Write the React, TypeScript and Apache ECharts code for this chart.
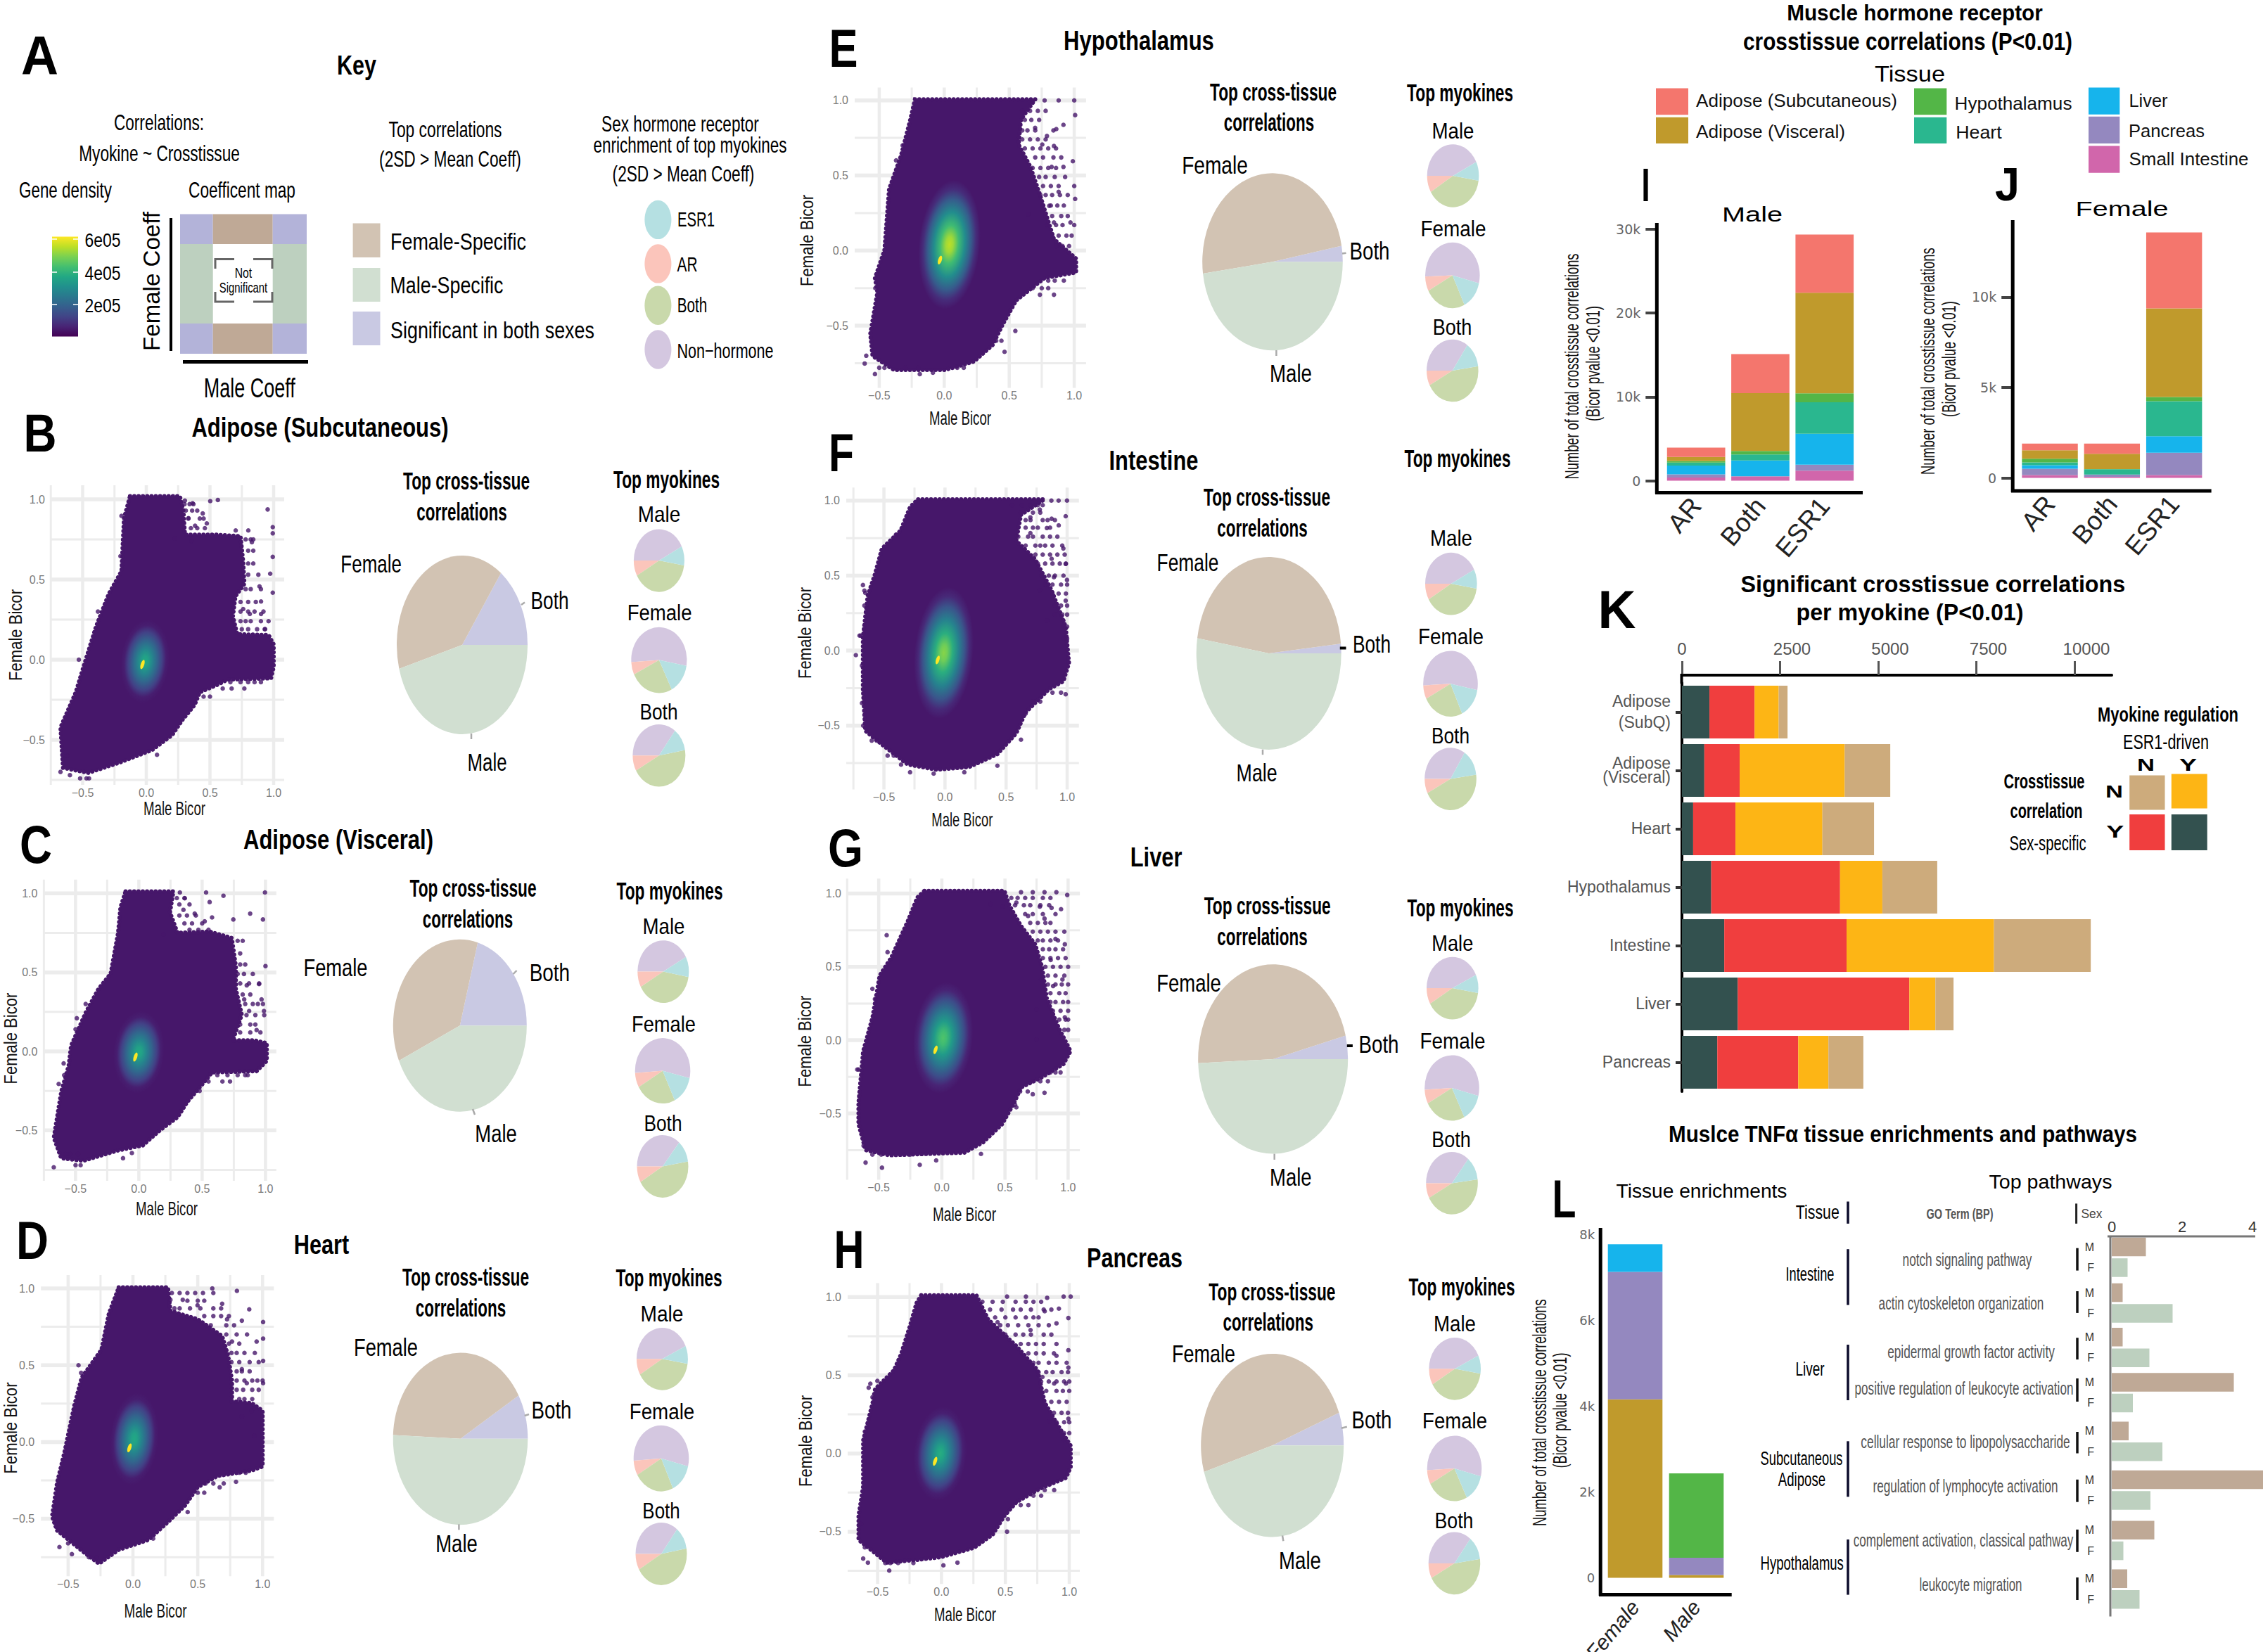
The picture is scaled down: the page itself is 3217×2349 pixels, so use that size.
import React, { useEffect, useRef } from "react";
import * as echarts from "echarts";

const W = 3217, H = 2349;
const SANS = '"Liberation Sans", Arial, sans-serif';

// ---------- data ----------
const panelIds = ["B", "C", "D", "E", "F", "G", "H"];

const cloudOutlineB = [[-.128,1.02],[.263,1.02],[.291,.93],[.303,.78],[.54,.78],[.74,.77],[.76,.615],[.77,.473],[.70,.395],[.68,.27],[.714,.159],[.96,.154],[1.0,.096],[1.0,-.046],[.98,-.116],[.64,-.124],[.56,-.156],[.42,-.203],[.38,-.281],[.283,-.376],[.203,-.47],[.044,-.564],[-.215,-.643],[-.455,-.706],[-.654,-.675],[-.674,-.423],[-.554,-.203],[-.494,-.046],[-.395,.206],[-.295,.41],[-.195,.552],[-.175,.882]];
const cloudOutlineC = [[-.105,1.013],[.273,1.013],[.246,.88],[.305,.75],[.559,.758],[.734,.718],[.766,.54],[.766,.394],[.813,.232],[.742,.07],[.91,.07],[1.01,.053],[1.01,-.06],[.93,-.125],[.578,-.133],[.52,-.19],[.383,-.319],[.305,-.417],[.168,-.498],[.031,-.595],[-.164,-.627],[-.4375,-.692],[-.613,-.676],[-.672,-.546],[-.613,-.254],[-.555,-.092],[-.535,.037],[-.418,.248],[-.32,.394],[-.223,.491],[-.164,.75],[-.145,.912]];
const cloudOutlineD = [[-.11,1.007],[.27,1.007],[.289,.854],[.498,.8],[.688,.69],[.734,.564],[.764,.401],[.764,.266],[.916,.253],[1.0,.203],[1.0,-.159],[.916,-.186],[.65,-.222],[.498,-.295],[.403,-.412],[.27,-.521],[.118,-.638],[-.11,-.702],[-.262,-.792],[-.376,-.72],[-.586,-.575],[-.624,-.485],[-.586,-.268],[-.529,-.069],[-.452,.239],[-.395,.42],[-.243,.6],[-.186,.835],[-.129,.962]];
const cloudOutlineE = [[-.225,1.007],[.70,1.007],[.59,.872],[.572,.706],[.663,.557],[.736,.372],[.844,.076],[1.014,-.054],[1.014,-.146],[.772,-.183],[.554,-.331],[.446,-.498],[.373,-.628],[.228,-.739],[.011,-.794],[-.388,-.794],[-.551,-.702],[-.569,-.554],[-.514,-.276],[-.533,-.183],[-.46,.002],[-.424,.409],[-.333,.631],[-.261,.872]];
const cloudOutlineF = [[-.22,1.009],[.815,1.009],[.622,.905],[.583,.731],[.737,.61],[.873,.402],[.988,.159],[1.015,-.083],[.969,-.205],[.853,-.256],[.66,-.412],[.583,-.551],[.429,-.69],[.197,-.776],[-.073,-.794],[-.305,-.759],[-.498,-.638],[-.653,-.534],[-.672,-.256],[-.672,.09],[-.633,.367],[-.575,.506],[-.517,.679],[-.363,.801],[-.286,.957]];
const cloudOutlineG = [[-.138,1.018],[.496,1.018],[.534,.92],[.627,.778],[.739,.654],[.795,.494],[.832,.281],[.925,.085],[1.019,-.075],[.963,-.163],[.795,-.252],[.627,-.323],[.571,-.43],[.478,-.572],[.328,-.696],[.179,-.767],[-.418,-.785],[-.604,-.75],[-.66,-.572],[-.66,-.43],[-.623,-.075],[-.549,.156],[-.493,.44],[-.399,.565],[-.269,.813],[-.194,.973]];
const cloudOutlineH = [[-.159,1.012],[.273,1.012],[.365,.857],[.587,.686],[.753,.531],[.808,.325],[.919,.17],[1.011,.05],[1.011,-.088],[.974,-.156],[.771,-.225],[.587,-.311],[.494,-.397],[.402,-.517],[.255,-.603],[-.004,-.663],[-.188,-.68],[-.428,-.698],[-.52,-.637],[-.649,-.552],[-.649,-.397],[-.613,-.208],[-.613,.084],[-.539,.325],[-.52,.411],[-.373,.531],[-.317,.634],[-.244,.823],[-.196,.961]];
const cloudOutlines = [cloudOutlineB, cloudOutlineC, cloudOutlineD, cloudOutlineE, cloudOutlineF, cloudOutlineG, cloudOutlineH];

const strayB = [[.303,.992],[.363,.976],[.502,.989],[.562,.996],[.331,.882],[.443,.912],[.383,.835],[.475,.85],[.953,.937],[.993,.827],[.993,.788],[.702,.806],[.801,.806],[.829,.733],[.993,.641],[.973,.536],[.993,.418],[.889,.457],[.901,.363],[.813,.285],[.901,.285],[.761,.316],[.933,.191],[.223,.756],[.355,.74],[-.195,.897],[-.203,.646],[-.674,-.7],[-.6,-.72],[-.47,-.74],[.084,-.593],[-.07,-.58]];
const strayC = [[.324,1.006],[.363,.969],[.531,1.006],[.668,.985],[.996,1.006],[.352,.896],[.441,.872],[.559,.945],[.578,.848],[.879,.872],[.98,.835],[.746,.835],[.52,.823],[1.0,.54],[.949,.426],[.852,.418],[.832,.329],[.969,.329],[.988,.256],[.871,.256],[.746,.07],[.93,.135],[-.672,-.733],[-.055,-.643],[-.125,-.676],[-.594,-.076],[-.633,-.206],[.195,.742]];
const strayD = [[.289,.926],[.384,.926],[.498,.89],[.612,1.0],[.802,.984],[.688,.9],[.897,.864],[1.004,.781],[1.004,.673],[.84,.79],[.726,.799],[.954,.654],[.764,.654],[.84,.474],[1.004,.528],[1.004,.383],[.878,.383],[.84,.166],[.916,.203],[.935,.04],[.795,-.259],[.669,-.295],[.422,-.456],[-.567,-.684],[-.471,-.73],[.156,-.629]];
const strayE = [[.772,1.0],[.88,1.0],[1.0,1.0],[1.007,.902],[.917,.837],[.862,.809],[.79,.763],[.699,.817],[.754,.706],[.844,.696],[.989,.595],[.917,.557],[.826,.557],[1.007,.344],[.88,.391],[.971,.187],[.808,.298],[.844,.187],[.645,.243],[.736,-.294],[.844,-.294],[.547,-.535],[.464,-.674],[-.612,-.752],[-.533,-.822],[-.188,-.822],[-.087,-.813]];
const strayF = [[.871,1.0],[.93,1.0],[.999,1.0],[.988,.896],[.776,.94],[.699,.888],[.873,.879],[.931,.835],[.834,.817],[.699,.783],[.969,.681],[.988,.578],[.873,.612],[.892,.489],[.999,.471],[.776,.402],[.988,.333],[.834,.201],[.969,.201],[-.73,-.03],[-.672,.437],[-.653,.385],[-.402,.773],[.988,-.291],[.622,-.594],[.429,-.767],[.158,-.811],[-.286,-.811],[-.093,-.82]];
const strayG = [[.627,1.009],[.72,1.009],[.813,1.009],[.907,1.009],[.993,.99],[.776,.91],[.869,.902],[.944,.893],[.59,.938],[.683,.847],[.813,.829],[.974,.654],[.9,.69],[.862,.547],[.955,.414],[.787,.414],[.881,.369],[.974,.156],[.881,.156],[.75,.21],[.75,.005],[-.437,.716],[-.604,-.835],[-.474,-.87],[-.175,-.85],[-.045,-.82],[.31,-.776],[.813,-.359],[.72,-.369],[.59,-.458],[.386,.93],[.48,.91]];
const strayH = [[.513,1.003],[.661,1.003],[.827,.995],[.956,1.003],[1.011,1.003],[.808,.909],[.919,.926],[.993,.866],[.9,.832],[.439,.839],[.697,.789],[.993,.66],[.9,.625],[.993,.549],[.79,.489],[.974,.447],[.882,.447],[.845,.205],[.956,.084],[.993,.222],[-.557,.446],[-.502,.464],[-.613,-.672],[-.576,-.698],[-.409,-.749],[.015,-.715],[.125,-.698],[.513,-.5],[.808,-.234],[.882,-.234]];
const strayPoints = [strayB, strayC, strayD, strayE, strayF, strayG, strayH];

// the speckled fringe of each cloud, row by row: [Female Bicor, [Male Bicor, ...]]
const fringeB: any[] = [[.97,[.3,.34,.37]],[.93,[.31,.36,.4]],[.88,[.33,.42,.45]],[.82,[.35,.4,.46]],[.75,[.78,.82,.84]],[.68,[.8,.84]],[.6,[.8,.84]],[.53,[.8,.88]],[.44,[.78,.82,.9]],[.36,[.74,.8,.86]],[.3,[.74,.8,.85,.92]],[.24,[.74,.78,.82,.9,.96]],[.19,[.75,.8,.87,.93]],[-.14,[.66,.74,.8,.85,.9]],[-.18,[.6,.67,.77]],[-.23,[.45,.5]],[.3,[-.38]],[0,[-.53]],[-.6,[-.62]],[-.74,[-.45,-.52]]];
const fringeC: any[] = [[.97,[.3,.36]],[.93,[.32,.4]],[.86,[.32,.38,.45]],[.81,[.36,.42,.5]],[.77,[.4,.47,.55]],[.7,[.78,.82]],[.62,[.8]],[.55,[.8,.84]],[.49,[.78,.83,.9]],[.43,[.8,.87,.95]],[.36,[.82,.88]],[.3,[.84,.9,.94,.98]],[.23,[.85,.92,.99]],[.17,[.8,.88,.92]],[.12,[.8,.88,.96]],[-.15,[.62,.7,.78,.84,.86]],[-.19,[.55,.66,.72]],[-.25,[.48]],[.3,[-.42]],[.21,[-.49]],[.14,[-.5]],[-.15,[-.59]],[-.65,[-.58,-.54,-.48]],[-.72,[-.5,-.46]]];
const fringeD: any[] = [[.97,[.3,.36,.42,.48,.54,.62]],[.92,[.42,.5,.55]],[.87,[.32,.36,.44,.52,.62,.68]],[.82,[.55,.62,.68,.74]],[.76,[.6,.72,.78]],[.7,[.72,.8,.88]],[.64,[.74,.82]],[.58,[.76,.8,.86,.94]],[.52,[.76,.82,.9,.97]],[.46,[.8,.84,.9]],[.4,[.8,.86,.92,.96,1.0]],[.34,[.8,.85,.92,.97]],[.28,[.82,.86,.92]],[-.2,[.75,.82,.87]],[-.27,[.56,.62,.7]],[-.33,[.5,.55]],[.5,[-.42]],[.45,[-.4]],[-.6,[-.53]],[-.66,[-.5]],[-.75,[-.34,-.28]]];
const fringeE: any[] = [[.93,[.6,.66,.72,.78]],[.87,[.62,.67,.73]],[.8,[.6,.64,.7,.84]],[.74,[.6,.66,.72,.78]],[.68,[.62,.68,.74,.8,.86]],[.62,[.62,.7,.76,.84,.9]],[.55,[.68,.74,.8,.86]],[.49,[.68,.73,.78,.85,.93]],[.43,[.7,.76,.82,.88,1.0]],[.37,[.74,.78,.83,.89,.95]],[.3,[.76,.82,.87,.92]],[.23,[.78,.83,.9,.95]],[.17,[.79,.86,.91,1.0]],[.1,[.83,.88,.94,.98]],[.03,[.86,.91,.96]],[-.2,[.8,.85,.92]],[-.25,[.68,.75,.8]],[-.25,[-.53]],[.6,[-.37]],[.7,[-.32]],[-.7,[-.6]],[-.78,[-.46,-.5,-.3,-.2,.1,.15]],[-.6,[.4,.44]]];
const fringeF: any[] = [[.97,[.55,.63,.7,.76,.8]],[.92,[.62,.72,.78]],[.87,[.66,.7,.8,.84,.9]],[.82,[.66,.72,.76,.86]],[.76,[.6,.68,.72,.8,.86,.92]],[.7,[.66,.74,.78,.82,.88,.96]],[.64,[.74,.8,.86,.92,.98]],[.58,[.76,.82,.88,.94,.99]],[.5,[.79,.85,.9,.97]],[.44,[.82,.88,.95,1.0]],[.38,[.88,.93,.99]],[.3,[.9,.95,1.0]],[.24,[.9,.96,1.0]],[.16,[.97,1.0]],[.08,[.97,1.0]],[-.28,[.8,.88,.95]],[-.34,[.72,.78]],[-.42,[.66]],[.4,[-.66]],[.3,[-.66]],[.1,[-.69,-.7]],[-.1,[-.68]],[-.35,[-.68]],[-.5,[-.67]],[-.6,[-.56,-.6]],[-.7,[-.42,-.47]],[-.76,[-.36]]];
const fringeG: any[] = [[.97,[.55,.6,.66,.72,.8,.86]],[.92,[.58,.65,.7,.78,.85]],[.86,[.66,.72,.8,.9]],[.8,[.7,.76,.82,.86]],[.74,[.72,.78,.84,.9,.97]],[.68,[.76,.8,.86,.92]],[.62,[.8,.85,.9,.96]],[.56,[.8,.86,.92,.98]],[.5,[.82,.88,.94,1.0]],[.44,[.84,.9,.97]],[.38,[.84,.9,.95,1.0]],[.32,[.86,.93,.98]],[.26,[.86,.9,.96,1.0]],[.2,[.88,.94,1.0]],[.14,[.93,.98,1.0]],[.07,[.97,1.0]],[-.22,[.86,.9,.94]],[-.28,[.72,.78,.84]],[-.35,[.62,.68]],[-.44,[.58]],[.35,[-.55]],[.28,[-.53]],[.6,[-.43]],[-.2,[-.66,-.67]],[-.62,[-.64]],[-.72,[-.62]],[-.78,[-.48,-.55,-.3,-.25]]];
const fringeH: any[] = [[.97,[.32,.4,.48,.58,.66,.72,.78]],[.92,[.38,.47,.56,.62,.7,.8,.86]],[.87,[.42,.5,.58,.66,.72,.76]],[.82,[.46,.52,.6,.68,.76,.84]],[.76,[.5,.58,.64,.7,.8,.86]],[.7,[.62,.68,.74,.8,.9]],[.64,[.68,.74,.8,.88]],[.58,[.72,.76,.84,.9,.98]],[.52,[.76,.82,.87,.94,.99]],[.46,[.78,.84,.9,.96,1.0]],[.4,[.82,.9,.95,1.0]],[.33,[.86,.92,.98]],[.26,[.88,.94,.99]],[.2,[.9,.96,1.0]],[.13,[.96,1.0]],[-.27,[.72,.78]],[-.33,[.62,.68]],[-.42,[.52]],[.42,[-.57]],[.36,[-.54]],[.14,[-.6]],[-.05,[-.6]],[-.45,[-.63]],[-.6,[-.6]],[-.7,[-.4,-.44,-.34,-.22]]];
const fringeRows = [fringeB, fringeC, fringeD, fringeE, fringeF, fringeG, fringeH];

// centre x, centre y, radius x, radius y, peak on the colour scale, hot spot x, hot spot y
const coreDensity = [
  [-.01, -.01, .19, .26, .6, -.03, -.03],
  [.0, -.005, .2, .26, .6, -.027, -.036],
  [.01, .02, .185, .3, .6, -.027, -.038],
  [.04, .04, .235, .43, .9, -.033, -.063],
  [-.01, -.015, .24, .44, .82, -.06, -.062],
  [.01, .015, .235, .38, .72, -.05, -.066],
  [-.01, 0, .205, .3, .62, -.05, -.05],
];

// Both, Female, Male (percent)
const mainPieShares = [
  [14.9, 39.4, 45.7], [20.7, 36, 43.3], [8.4, 40.9, 50.7], [2.9, 49.2, 47.9],
  [1.6, 45.9, 52.5], [4, 46.7, 49.3], [5.8, 48.9, 45.3],
];
// Non-hormone, AR, Both, ESR1 for the Male / Female / Both small pies
const myokineShares = [
  [[153.5, 29, 142, 35.5], [193.5, 22.5, 91, 53], [127, 29, 161, 43]],
  [[152, 29, 141, 38], [197, 26, 86, 51], [130, 30, 159, 41]],
  [[155.5, 30, 141, 33.5], [198, 26, 85, 51], [128, 30, 160, 42]],
  [[154, 31, 140, 35], [196, 26, 88, 50], [125, 28, 160, 47]],
  [[153, 30, 141, 36], [194, 24, 88, 54], [123, 27, 161, 49]],
  [[155, 30, 141, 34], [197, 25, 89, 49], [129, 28, 159, 44]],
  [[155, 30, 141, 34], [197, 25, 89, 49], [128, 28, 160, 44]],
];
const myokineStarts = [
  [26.5, -10, 53], [28, -13, 50], [24.5, -14, 52], [26, -14, 55], [27, -11, 57], [25, -14, 51], [25, -14, 52],
];

const receptorCats = ["AR", "Both", "ESR1"];
const tissues = ["Small Intestine", "Pancreas", "Liver", "Heart", "Hypothalamus", "Adipose (Visceral)", "Adipose (Subcutaneous)"];
const tissueColors = ["#d166ab", "#9488bf", "#16b4ec", "#2ab78f", "#53b647", "#c09a2c", "#f4766d"];
const maleBySmallIntestine = [380, 500, 1210];
const maleByPancreas = [380, 50, 710];
const maleByLiver = [1050, 1880, 3680];
const maleByHeart = [350, 710, 3770];
const maleByHypothalamus = [200, 420, 1050];
const maleByVisceral = [480, 6900, 12000];
const maleBySubcutaneous = [1100, 4640, 6950];
const maleStacks = [maleBySmallIntestine, maleByPancreas, maleByLiver, maleByHeart, maleByHypothalamus, maleByVisceral, maleBySubcutaneous];
const femaleBySmallIntestine = [155, 60, 155];
const femaleByPancreas = [350, 120, 1240];
const femaleByLiver = [195, 10, 910];
const femaleByHeart = [155, 290, 1940];
const femaleByHypothalamus = [210, 10, 230];
const femaleByVisceral = [465, 850, 4900];
const femaleBySubcutaneous = [370, 560, 4200];
const femaleStacks = [femaleBySmallIntestine, femaleByPancreas, femaleByLiver, femaleByHeart, femaleByHypothalamus, femaleByVisceral, femaleBySubcutaneous];

const myokineTissues = ["Adipose\n(SubQ)", "Adipose\n(Visceral)", "Heart", "Hypothalamus", "Intestine", "Liver", "Pancreas"];
const sexSpecificEsr1 = [700, 570, 285, 746, 1078, 1422, 900];
const sexSpecificOther = [1150, 900, 1078, 3282, 3116, 4372, 2062];
const sharedEsr1 = [615, 2677, 2216, 1078, 3756, 663, 770];
const sharedOther = [225, 1160, 1315, 1398, 2465, 462, 889];
const myokineTicks = [0, 2500, 5000, 7500, 10000];

const tnfSex = ["Female", "Male"];
const tnfVisceral = [4160, 64];
const tnfPancreas = [2972, 402];
const tnfHypothalamus = [0, 1968];
const tnfLiver = [643, 0];

const pathwayNames = ["notch signaling pathway", "actin cytoskeleton organization", "epidermal growth factor activity", "positive regulation of leukocyte activation", "cellular response to lipopolysaccharide", "regulation of lymphocyte activation", "complement activation, classical pathway", "leukocyte migration"];
const pathwayMale = [.97, .31, .31, 3.47, .48, 4.3, 1.21, .44];
const pathwayFemale = [.45, 1.73, 1.07, .6, 1.44, 1.1, .33, .79];
const sexLabels = ["M", "F"];
const bicorTicks = [-.5, 0, .5, 1];
const gridMajor = [-.5, 0, .5, 1];
const gridMinor = [-.75, -.25, .25, .75];

// ---------- layout ----------
const panelLayout = [
  { x0: 208, xu: 181, y0: 938, yu: 228, l: 73, r: 404, t: 690, b: 1116, letter: ["B", 57, 616, 47], title: ["Adipose (Subcutaneous)", 455, 608, 365],
    cross: [663, 684, 656.5, 727], myo: [947.5, 681.4], subs: [[937, 731.4, 60.5], [937.6, 871, 92], [936.5, 1011.8, 54]],
    labels: [[527.6, 802, 86.5], [781.6, 854, 54], [692.6, 1083.6, 56]], leaders: [[741, 860, 746, 856.4], [670, 1043, 670, 1051]], fb: [21.6, 903], mb: [248, 1150, 88],
    pie: [657, 917, 93, 127], small: [[936.9, 797, 36, 44.6], [936.9, 938.6, 39.6, 46.8], [936.9, 1074.3, 37.5, 44.3]] },
  { x0: 197.4, xu: 180, y0: 1495, yu: 224.7, l: 62.4, r: 392.8, t: 1250.7, b: 1679, letter: ["C", 51, 1201, 46], title: ["Adipose (Visceral)", 481, 1193.6, 270],
    cross: [672.5, 1262.7, 665, 1306.3], myo: [952, 1266.3], subs: [[943.5, 1316.5, 60], [943.5, 1456.4, 91], [942.5, 1597, 54]],
    labels: [[477, 1376, 91], [781.4, 1382.7, 57.5], [705, 1612.4, 59.5]], leaders: [[729.6, 1385, 734.5, 1380], [672, 1577, 675, 1585]], fb: [15, 1476.6], mb: [237, 1719, 88],
    pie: [653.8, 1458.3, 95, 122.5], small: [[942.8, 1381.6, 36.5, 44.4], [942, 1522.6, 39.3, 46.5], [942, 1658.5, 36.5, 44.4]] },
  { x0: 189, xu: 184.3, y0: 2050.4, yu: 218.4, l: 58.2, r: 389.3, t: 1812.9, b: 2241.2, letter: ["D", 46, 1763.6, 46], title: ["Heart", 457, 1769.5, 78.6],
    cross: [662, 1815.7, 655, 1859], myo: [951, 1816.9], subs: [[941, 1868.2, 61], [941, 2007, 92.6], [940, 2147.7, 53.3]],
    labels: [[548.5, 1916.7, 91], [784, 2004.4, 57], [649, 2195.8, 59.6]], leaders: [[745.7, 2013, 752, 2011], [652.4, 2167.4, 652.4, 2175.3]], fb: [15, 2030.5], mb: [221, 2290.6, 89],
    pie: [654.5, 2045.8, 95.8, 122.4], small: [[941.4, 1932.3, 36.5, 44.4], [940, 2073.7, 39.3, 47], [940, 2209.5, 36.5, 44.4]] },
  { x0: 1342.3, xu: 184.8, y0: 356.3, yu: 213.6, l: 1215, r: 1543.9, t: 124.6, b: 551.6, letter: ["E", 1199, 69, 41], title: ["Hypothalamus", 1619, 58, 214],
    cross: [1810, 130.5, 1804, 173.2], myo: [2075.6, 131.7], subs: [[2065.5, 185.8, 60], [2066, 325, 93], [2064.5, 465.4, 55.6]],
    labels: [[1727, 235.3, 93.7], [1947, 356.7, 57], [1835, 530.6, 60]], leaders: [[1908, 360.6, 1913.5, 359.8], [1814.4, 498, 1814.4, 506]], fb: [1146.7, 342], mb: [1365, 595, 88],
    pie: [1809, 372.3, 99.8, 126], small: [[2065.5, 249.9, 36.8, 44.7], [2064.8, 391.5, 38.8, 46.7], [2064.8, 527, 36.8, 44.3]] },
  { x0: 1343.4, xu: 173.6, y0: 925.1, yu: 213.3, l: 1203, r: 1533.8, t: 693.2, b: 1122.4, letter: ["F", 1196, 643.3, 36], title: ["Intestine", 1640, 655, 127],
    cross: [1801, 706.2, 1794.5, 750.6], myo: [2072, 651.4], subs: [[2063, 765.4, 60], [2062.5, 904.9, 93], [2062, 1045.8, 54]],
    labels: [[1688.5, 800.5, 88], [1950, 916.3, 54], [1786.6, 1099, 58]], leaders: [[1904.8, 921.5, 1913.5, 921.5, 1], [1795, 1065.8, 1795, 1073.2]], fb: [1143.4, 900], mb: [1367.8, 1165.7, 87],
    pie: [1803.7, 928.9, 103, 137], small: [[2062.8, 830.1, 36.8, 44.4], [2062, 972.2, 38.8, 46.8], [2062, 1107.6, 36.8, 44.4]] },
  { x0: 1338.9, xu: 179.5, y0: 1479, yu: 208.5, l: 1205, r: 1535.1, t: 1249.2, b: 1677.6, letter: ["G", 1202, 1206, 50], title: ["Liver", 1643.6, 1218.8, 73.7],
    cross: [1801.7, 1287.3, 1794.5, 1331], myo: [2076, 1290.2], subs: [[2064.8, 1341, 59], [2064.9, 1479.7, 93], [2063, 1620.3, 55.6]],
    labels: [[1690, 1398.3, 91.7], [1960, 1484.5, 57], [1834.8, 1673.9, 59.6]], leaders: [[1914.8, 1487, 1922.9, 1487, 1], [1811.7, 1640.6, 1811.7, 1649]], fb: [1143.4, 1480.6], mb: [1371, 1726.8, 90],
    pie: [1809.7, 1505.9, 106.5, 134.7], small: [[2064.8, 1405.1, 36.8, 44.4], [2064, 1547, 38.8, 46.6], [2064, 1682.4, 36.8, 44.4]] },
  { x0: 1338.4, xu: 181.6, y0: 2066.7, yu: 222.4, l: 1205, r: 1535, t: 1824.5, b: 2252.3, letter: ["H", 1207, 1776.7, 43], title: ["Pancreas", 1613, 1789, 136],
    cross: [1808.4, 1837, 1802.7, 1879.9], myo: [2078, 1830], subs: [[2068, 1881.8, 60], [2068, 2020.4, 92], [2067, 2161.8, 55]],
    labels: [[1711, 1925, 90], [1950, 2018.5, 57], [1848, 2218.7, 60]], leaders: [[1906.8, 2030.7, 1914.8, 2028.8], [1823, 2183.5, 1824.4, 2191.2]], fb: [1144.7, 2049], mb: [1372, 2296, 88],
    pie: [1808.7, 2055.2, 101.5, 130.3], small: [[2068.2, 1946.3, 36.8, 44.3], [2067.5, 2088, 38.8, 46.6], [2067.5, 2222.9, 36.8, 44.3]] },
];

const CLOUD = "#46176a";
const VIRIDIS = ["#440154", "#482475", "#414487", "#355f8d", "#2a788e", "#21908d", "#22a884", "#44bf70", "#7ad151", "#bddf26", "#fde725"];
const MAIN_COLORS = ["#c9c9e3", "#d2c3b3", "#d1dfd1"];
const SMALL_COLORS = ["#d4c7e0", "#fbc5bb", "#c9d9ab", "#b5e0e2"];

function hex(c: string) { return [1, 3, 5].map((i) => parseInt(c.slice(i, i + 2), 16)); }
function viridis(t: number) {
  const p = Math.max(0, Math.min(1, t)) * 10, i = Math.min(9, Math.floor(p)), f = p - i;
  const a = hex(VIRIDIS[i]), b = hex(VIRIDIS[i + 1]);
  return "rgb(" + a.map((v, k) => Math.round(v + (b[k] - v) * f)).join(",") + ")";
}

const measure = document.createElement("canvas").getContext("2d") as any;
function T(text: string, cx: number, cy: number, w: number, size: number, o: any = {}) {
  const font = `${o.italic ? "italic " : ""}${o.bold ? "bold " : ""}${size}px "Liberation Sans"`;
  measure.font = font;
  const mw = measure.measureText(text).width || 1;
  return {
    type: "text", x: cx, y: cy, rotation: o.rot || 0, scaleX: w / mw, z: 20, silent: true,
    style: { text, font, fill: o.color || "#000", textAlign: "center", textVerticalAlign: "middle" },
  };
}
const UP = Math.PI / 2;
function Line(x1: number, y1: number, x2: number, y2: number, lw = 4, color = "#000") {
  return { type: "line", z: 15, silent: true, shape: { x1, y1, x2, y2 }, style: { stroke: color, lineWidth: lw } };
}
function Box(x: number, y: number, x2: number, y2: number, fill: any) {
  return { type: "rect", z: 10, silent: true, shape: { x, y, width: x2 - x, height: y2 - y }, style: { fill } };
}
function Oval(cx: number, cy: number, rx: number, ry: number, fill: string) {
  return { type: "ellipse", z: 10, silent: true, shape: { cx, cy, rx, ry }, style: { fill } };
}

function pieSeries(values: number[], start: number, colors: string[], box: number[]) {
  const total = values.reduce((a, b) => a + b, 0);
  let run = 0;
  const before = values.map((v) => { const r = run; run += v; return r; });
  const RAD = Math.PI / 180;
  return {
    type: "custom", coordinateSystem: "none", silent: true, z: 5, data: values.map((v) => [v]),
    renderItem: (p: any, api: any) => {
      const a0 = start + (360 * before[p.dataIndex]) / total;
      const a1 = a0 + (360 * api.value(0)) / total;
      return {
        type: "sector", x: box[0], y: box[1], scaleX: box[2] / 100, scaleY: box[3] / 100,
        shape: { cx: 0, cy: 0, r: 100, r0: 0, startAngle: -a0 * RAD, endAngle: -a1 * RAD, clockwise: false },
        style: { fill: colors[p.dataIndex] },
      };
    },
  };
}

function buildOption() {
  const grid: any[] = [], xAxis: any[] = [], yAxis: any[] = [], series: any[] = [], g: any[] = [];
  const bicorLabel = (v: number) => (v < 0 ? "\u2212" : "") + Math.abs(v).toFixed(1);

  panelLayout.forEach((p, i) => {
    grid.push({ left: p.l, top: p.t, width: p.r - p.l, height: p.b - p.t });
    const labelStyle = { color: "#7a7a7a", fontSize: 16, fontFamily: SANS, formatter: bicorLabel, customValues: bicorTicks };
    xAxis.push({ type: "value", gridIndex: i, min: (p.l - p.x0) / p.xu, max: (p.r - p.x0) / p.xu, axisLine: { show: false }, axisTick: { show: false }, splitLine: { show: false }, axisLabel: { ...labelStyle, margin: 3 } });
    yAxis.push({ type: "value", gridIndex: i, min: (p.y0 - p.b) / p.yu, max: (p.y0 - p.t) / p.yu, axisLine: { show: false }, axisTick: { show: false }, splitLine: { show: false }, axisLabel: { ...labelStyle, margin: 9 } });

    const lines = [
      ...gridMajor.map((v) => [0, v, 1]), ...gridMinor.map((v) => [0, v, 0]),
      ...gridMajor.map((v) => [1, v, 1]), ...gridMinor.map((v) => [1, v, 0]),
    ];
    series.push({
      type: "custom", xAxisIndex: i, yAxisIndex: i, silent: true, z: 1, data: lines, clip: false,
      renderItem: (ps: any, api: any) => {
        const c = ps.coordSys, isX = api.value(0) === 0, v = api.value(1), major = api.value(2);
        const q = api.coord(isX ? [v, 0] : [0, v]);
        if (isX) {
          if (q[0] < c.x - 1 || q[0] > c.x + c.width + 1) return null;
          return { type: "line", shape: { x1: q[0], y1: c.y, x2: q[0], y2: c.y + c.height }, style: { stroke: "#ececec", lineWidth: major ? 4.5 : 3 } };
        }
        if (q[1] < c.y - 1 || q[1] > c.y + c.height + 1) return null;
        return { type: "line", shape: { x1: c.x, y1: q[1], x2: c.x + c.width, y2: q[1] }, style: { stroke: "#ececec", lineWidth: major ? 5.5 : 3 } };
      },
    });
    const outline = cloudOutlines[i];
    series.push({
      type: "custom", xAxisIndex: i, yAxisIndex: i, silent: true, z: 2, data: outline, clip: false,
      renderItem: (ps: any, api: any) => {
        if (ps.dataIndex !== 0) return null;
        return { type: "polygon", shape: { points: outline.map((q) => api.coord(q)) }, style: { fill: CLOUD, stroke: CLOUD, lineWidth: 6, lineDash: [0.1, 6], lineCap: "round" } };
      },
    });
    const fringe: number[][] = [];
    fringeRows[i].forEach((row: any) => row[1].forEach((x: number) => fringe.push([x, row[0]])));
    series.push({ type: "scatter", xAxisIndex: i, yAxisIndex: i, silent: true, z: 3, symbol: "circle", symbolSize: 6.5, itemStyle: { color: CLOUD }, data: strayPoints[i].concat(fringe), clip: false });
    const core = coreDensity[i];
    series.push({
      type: "custom", xAxisIndex: i, yAxisIndex: i, silent: true, z: 4, data: [core], clip: false,
      renderItem: (ps: any, api: any) => {
        const c = api.coord([core[0], core[1]]);
        const rx = api.coord([core[0] + core[2], core[1]])[0] - c[0];
        const ry = c[1] - api.coord([core[0], core[1] + core[3]])[1];
        const pk = core[4];
        const stops = [[0, 1], [.12, .95], [.3, .76], [.5, .54], [.7, .32], [.86, .14]].map(([o, f]) => ({ offset: o, color: viridis(pk * f) }));
        stops.push({ offset: 1, color: CLOUD });
        const h = api.coord([core[5], core[6]]);
        const sx = api.coord([core[5] + .014, core[6]])[0] - h[0];
        const sy = h[1] - api.coord([core[5], core[6] + .03])[1];
        return {
          type: "group",
          children: [
            { type: "ellipse", x: c[0], y: c[1], rotation: -0.09, shape: { cx: 0, cy: 0, rx, ry }, style: { fill: new echarts.graphic.RadialGradient(0.5, 0.5, 0.5, stops) } },
            { type: "ellipse", x: h[0], y: h[1], rotation: -0.3, shape: { cx: 0, cy: 0, rx: sx, ry: sy }, style: { fill: "#fde725" } },
          ],
        };
      },
    });

    series.push(pieSeries(mainPieShares[i], 0, MAIN_COLORS, p.pie));
    p.small.forEach((box, k) => series.push(pieSeries(myokineShares[i][k], myokineStarts[i][k], SMALL_COLORS, box)));

    g.push(T(p.letter[0] as string, p.letter[1] as number, p.letter[2] as number, p.letter[3] as number, 76, { bold: true }));
    g.push(T(p.title[0] as string, p.title[1] as number, p.title[2] as number, p.title[3] as number, 38, { bold: true }));
    g.push(T("Top cross-tissue", p.cross[0], p.cross[1], 180, 35, { bold: true }));
    g.push(T("correlations", p.cross[2], p.cross[3], 128.5, 35, { bold: true }));
    g.push(T("Top myokines", p.myo[0], p.myo[1], 151, 35, { bold: true }));
    ["Male", "Female", "Both"].forEach((s, k) => g.push(T(s, p.subs[k][0], p.subs[k][1], p.subs[k][2], 31)));
    ["Female", "Both", "Male"].forEach((s, k) => g.push(T(s, p.labels[k][0], p.labels[k][1], p.labels[k][2], 35)));
    p.leaders.forEach((l: number[]) => g.push(Line(l[0], l[1], l[2], l[3], l[4] ? 4 : 2.5, l[4] ? "#000" : "#aaa")));
    g.push(T("Female Bicor", p.fb[0], p.fb[1], 130, 26, { rot: UP, color: "#111" }));
    g.push(T("Male Bicor", p.mb[0], p.mb[1], p.mb[2], 27, { color: "#111" }));
  });

  // ---- Panel A key
  g.push(T("A", 56.5, 79, 53, 77, { bold: true }));
  g.push(T("Key", 507, 93, 56, 38, { bold: true }));
  g.push(T("Correlations:", 226, 174, 128, 32));
  g.push(T("Myokine ~ Crosstissue", 226.5, 218, 229, 32));
  g.push(T("Gene density", 93, 270, 132, 32));
  g.push(T("Coefficent map", 344, 270, 152, 32));
  g.push(Box(74, 336.5, 111, 478.5, new echarts.graphic.LinearGradient(0, 0, 0, 1, VIRIDIS.slice().reverse().map((c, k) => ({ offset: k / 10, color: c })))));
  [["6e05", 340], ["4e05", 387], ["2e05", 433]].forEach(([s, y]: any) => {
    g.push(Line(74, y, 81, y, 1.5, "#fff"));
    g.push(Line(104, y, 111, y, 1.5, "#fff"));
    g.push(T(s, 146, y + 1, 51, 27));
  });
  g.push(T("Female Coeff", 215, 400, 198, 34, { rot: UP }));
  g.push(Line(243, 310, 243, 499, 4));
  const cX = [256, 302.7, 387.7, 436], cY = [304.5, 347, 460, 503];
  const CORNER = "#b3b3d9", TOPC = "#bfa996", SIDE = "#bdd0bf";
  [[0, 0, CORNER], [1, 0, TOPC], [2, 0, CORNER], [0, 1, SIDE], [2, 1, SIDE], [0, 2, CORNER], [1, 2, TOPC], [2, 2, CORNER]].forEach(([a, b, c]: any) =>
    g.push(Box(cX[a], cY[b], cX[a + 1], cY[b + 1], c)));
  [[333, 368.5, 306, 368.5, 306, 382], [360, 368.5, 387, 368.5, 387, 382], [306, 415, 306, 429, 333, 429], [387, 415, 387, 429, 360, 429]].forEach((q) =>
    g.push({ type: "polyline", z: 15, silent: true, shape: { points: [[q[0], q[1]], [q[2], q[3]], [q[4], q[5]]] }, style: { stroke: "#666", lineWidth: 3, fill: "none" } }));
  g.push(T("Not", 346, 388.7, 24.5, 20));
  g.push(T("Significant", 346, 409, 68.5, 20));
  g.push(Line(260, 514.4, 438, 514.4, 5));
  g.push(T("Male Coeff", 354.7, 552, 130, 38));
  g.push(T("Top correlations", 633, 184, 161, 32));
  g.push(T("(2SD > Mean Coeff)", 640, 226, 202, 32));
  g.push(T("Sex hormone receptor", 967, 176, 224, 32));
  g.push(T("enrichment of top myokines", 981, 206.4, 275, 32));
  g.push(T("(2SD > Mean Coeff)", 971.5, 247.5, 202, 32));
  g.push(Box(501.6, 317.5, 540.5, 366, "#d2c3b3"));
  g.push(Box(501.6, 381, 540.5, 429, "#d1dfd1"));
  g.push(Box(501.6, 443, 540.5, 491, "#c9c9e3"));
  g.push(T("Female-Specific", 651.5, 342.4, 193, 34));
  g.push(T("Male-Specific", 635, 405, 161, 34));
  g.push(T("Significant in both sexes", 700, 468.6, 290, 34));
  g.push(Oval(935.4, 312.4, 19, 27.7, "#b5e0e2"));
  g.push(Oval(935.4, 374.9, 19, 27.7, "#fbc5bb"));
  g.push(Oval(935.4, 434.2, 19, 27.7, "#c9d9ab"));
  g.push(Oval(935.4, 497, 19, 27.7, "#d4c7e0"));
  g.push(T("ESR1", 989.5, 311.6, 53, 30));
  g.push(T("AR", 977, 375.6, 29, 30));
  g.push(T("Both", 984, 434, 42.5, 30));
  g.push(T("Non\u2212hormone", 1031, 499, 137, 30));

  // ---- Panels I, J
  const kFmt = (v: number) => (v === 0 ? "0" : v / 1000 + "k");
  const stackedGrid = (left: number, width: number, top: number, bottom: number, max: number, ticks: number[], cats: string[], stacks: number[][], names: string[], colors: string[], barW: number, yOff: number, xOff: number, xLabel: any, yLabel: any) => {
    const idx = grid.length;
    grid.push({ left, top, width, height: bottom - top });
    xAxis.push({ type: "category", gridIndex: idx, data: cats, offset: xOff, axisLine: { show: false }, axisTick: { show: false }, axisLabel: { interval: 0, fontFamily: SANS, ...xLabel } });
    yAxis.push({
      type: "value", gridIndex: idx, min: 0, max, offset: yOff, splitLine: { show: false }, axisLine: { show: false },
      axisTick: { show: true, length: yLabel.tick, lineStyle: { color: "#444", width: 4 }, customValues: ticks },
      axisLabel: { customValues: ticks, formatter: kFmt, color: "#666", fontFamily: "DejaVu Sans", fontSize: yLabel.size, margin: yLabel.margin },
    });
    stacks.forEach((vals, k) => series.push({ type: "bar", name: names[k], xAxisIndex: idx, yAxisIndex: idx, stack: "s" + idx, barWidth: barW, silent: true, z: 3, itemStyle: { color: colors[k] }, data: vals }));
  };
  stackedGrid(2365.5, 273.9, 325.9, 683.6, 30000, [0, 10000, 20000, 30000], receptorCats, maleStacks, tissues, tissueColors, 82.7, 10.2, 17, { rotate: 50, fontSize: 37, color: "#222", margin: 12 }, { tick: 16, size: 19, margin: 23 });
  stackedGrid(2869.9, 264.9, 293.8, 679.6, 15000, [0, 5000, 10000], receptorCats, femaleStacks, tissues, tissueColors, 79.4, 8.7, 18.4, { rotate: 50, fontSize: 37, color: "#222", margin: 12 }, { tick: 16, size: 19, margin: 23 });
  g.push(Line(2355.3, 317, 2355.3, 702, 5), Line(2353, 700.5, 2648, 700.5, 5));
  g.push(Line(2861.2, 313, 2861.2, 700, 5), Line(2859, 698, 3143.6, 698, 5));
  g.push(T("Muscle hormone receptor", 2722, 18, 364, 32, { bold: true }));
  g.push(T("crosstissue correlations (P<0.01)", 2712, 58.7, 468, 35, { bold: true }));
  g.push(T("Tissue", 2715, 104.5, 100, 32));
  const legendRows: any[] = [
    [2354, 125.4, 2400, 163.2, "#f4766d", "Adipose (Subcutaneous)", 2554, 143.3, 286],
    [2354, 166.7, 2400, 204, "#c09a2c", "Adipose (Visceral)", 2517, 186.6, 212],
    [2721, 125.4, 2767.3, 163.2, "#53b647", "Hypothalamus", 2862, 147.3, 167],
    [2721, 166.7, 2767.3, 204, "#2ab78f", "Heart", 2813, 188, 65.5],
    [2969, 124.4, 3013.3, 162.7, "#16b4ec", "Liver", 3054, 143.3, 55],
    [2969, 165.7, 3013.3, 204, "#9488bf", "Pancreas", 3080, 185.6, 108],
    [2969, 207.5, 3013.3, 245.8, "#d166ab", "Small Intestine", 3111.5, 226.4, 170],
  ];
  legendRows.forEach((r) => { g.push(Box(r[0], r[1], r[2], r[3], r[4])); g.push(T(r[5], r[6], r[7], r[8], 26, { color: "#111" })); });
  g.push(T("I", 2339.4, 263, 12, 67, { bold: true }));
  g.push(T("J", 2853.6, 262, 35, 67, { bold: true }));
  g.push(T("Male", 2491, 304.5, 86, 30));
  g.push(T("Female", 3016.6, 296, 132, 30));
  [[2235, 521, 321], [2740.8, 513.7, 323], [2188.8, 2008.6, 323]].forEach((q) => g.push(T("Number of total crosstissue correlations", q[0], q[1], q[2], 27, { rot: UP, color: "#111" })));
  [[2264.7, 517, 164], [2770.6, 510.5, 165], [2218, 2005.5, 164]].forEach((q) => g.push(T("(Bicor pvalue <0.01)", q[0], q[1], q[2], 27, { rot: UP, color: "#111" })));

  // ---- Panel K
  const kIdx = grid.length;
  grid.push({ left: 2391, top: 970.9, width: 611, height: 581 });
  xAxis.push({
    type: "value", gridIndex: kIdx, position: "top", min: 0, max: 10950, offset: 10.9, splitLine: { show: false },
    axisLine: { show: true, lineStyle: { color: "#000", width: 4 } },
    axisTick: { show: true, length: 20, lineStyle: { color: "#555", width: 3 }, customValues: myokineTicks },
    axisLabel: {
      customValues: myokineTicks, margin: 26, formatter: (v: number) => (v === 0 ? "{z|0}" : "{n|" + v + "}"),
      rich: { z: { color: "#555", fontSize: 24, fontFamily: SANS }, n: { color: "#555", fontSize: 24, fontFamily: SANS, padding: [0, 0, 0, 34] } },
    },
  });
  yAxis.push({
    type: "category", gridIndex: kIdx, inverse: true, data: myokineTissues,
    axisLine: { show: true, lineStyle: { color: "#000", width: 4 } },
    axisTick: { show: true, alignWithLabel: true, length: 9, lineStyle: { color: "#333", width: 4 } },
    axisLabel: {
      interval: 0, margin: 16, color: "#555", fontSize: 23, fontFamily: SANS,
      formatter: (v: string) => (v.includes("Visceral") ? "{t|" + v.replace("\n", "}\n{t|") + "}" : v), rich: { t: { lineHeight: 20, fontSize: 23, color: "#555", fontFamily: SANS } }, lineHeight: 30,
    },
  });
  [["Sex-specific / ESR1", sexSpecificEsr1, "#33514f"], ["Sex-specific / other", sexSpecificOther, "#f03e3e"], ["Not sex-specific / ESR1", sharedEsr1, "#fdb515"], ["Not sex-specific / other", sharedOther, "#cdab7c"]].forEach(([n, d, c]: any) =>
    series.push({ type: "bar", name: n, xAxisIndex: kIdx, yAxisIndex: kIdx, stack: "k", barWidth: 75, silent: true, z: 3, itemStyle: { color: c }, data: d }));
  g.push(Line(2390.5, 958, 2390.5, 972, 4));
  g.push(T("K", 2298.4, 866.7, 54, 76, { bold: true }));
  g.push(T("Significant crosstissue correlations", 2747.8, 830, 547, 33, { bold: true }));
  g.push(T("per myokine (P<0.01)", 2715, 870.8, 323, 33, { bold: true }));
  g.push(T("Myokine regulation", 3082, 1015.7, 200, 30, { bold: true }));
  g.push(T("ESR1-driven", 3079, 1054.5, 122, 29));
  g.push(T("N", 3050.4, 1087.7, 25, 24, { bold: true }));
  g.push(T("Y", 3110.6, 1087.7, 25, 24, { bold: true }));
  g.push(T("N", 3005.4, 1126, 25, 24, { bold: true }));
  g.push(T("Y", 3006.7, 1183, 25, 24, { bold: true }));
  g.push(Box(3027.2, 1102.4, 3077.5, 1151.4, "#cdab7c"));
  g.push(Box(3086.8, 1100.4, 3137.7, 1149.4, "#fdb515"));
  g.push(Box(3027.2, 1158, 3077.5, 1209, "#f03e3e"));
  g.push(Box(3086.8, 1158, 3137.7, 1209, "#33514f"));
  g.push(T("Crosstissue", 2906, 1110, 115, 30, { bold: true }));
  g.push(T("correlation", 2909, 1152.4, 103, 30, { bold: true }));
  g.push(T("Sex-specific", 2911, 1198.4, 109, 30));

  // ---- Panel L
  stackedGrid(2281, 174, 1755.5, 2243.5, 8000, [0, 2000, 4000, 6000, 8000], tnfSex, [tnfVisceral, tnfPancreas, tnfHypothalamus, tnfLiver], ["Adipose (Visceral)", "Pancreas", "Hypothalamus", "Liver"], ["#c09a2c", "#9488bf", "#53b647", "#16b4ec"], 77.6, 5.8, 24, { rotate: 50, fontSize: 30, color: "#222", fontStyle: "italic", margin: 12 }, { tick: 0, size: 18, margin: 8 });
  g.push(Line(2275.2, 1746, 2275.2, 2269, 5), Line(2273, 2267.6, 2461.7, 2267.6, 5));
  g.push(T("Muslce TNF\u03b1 tissue enrichments and pathways", 2705, 1613.4, 666, 33, { bold: true }));
  g.push(T("L", 2223.5, 1705, 34, 76, { bold: true }));
  g.push(T("Tissue enrichments", 2419, 1693.8, 243, 28));
  g.push(T("Top pathways", 2915, 1680.5, 175, 28));
  g.push(T("Tissue", 2583.8, 1723.2, 62, 28));
  g.push(T("GO Term (BP)", 2786, 1725.7, 95, 21, { bold: true, color: "#555" }));
  g.push(T("Sex", 2973.4, 1726, 30, 19, { color: "#444" }));
  const NAVY = "#0b0b2b";
  [[1708.5, 1739.9], [1776.2, 1855.6], [1912, 1991], [2049.3, 2128.3], [2189, 2267.6]].forEach((q) => g.push(Line(2627, q[0], 2627, q[1], 3.5, NAVY)));
  g.push(Line(2951.6, 1711.4, 2951.6, 1739.9, 3, "#222"));
  g.push(T("Intestine", 2573, 1811.5, 69, 27));
  g.push(T("Liver", 2573, 1946.9, 41, 27));
  g.push(T("Subcutaneous", 2561, 2073.9, 117, 27));
  g.push(T("Adipose", 2561.4, 2103.8, 67.4, 27));
  g.push(T("Hypothalamus", 2561.7, 2222.5, 118.4, 27));
  const goPos = [[2796.5, 1790.9, 184], [2788, 1853.2, 235], [2802, 1922.3, 238], [2792, 1973.8, 311], [2794, 2049.8, 297.4], [2794, 2113.6, 263.4], [2791, 2190.6, 313], [2801.5, 2252.9, 146]];
  pathwayNames.forEach((n, k) => g.push(T(n, goPos[k][0], goPos[k][1], goPos[k][2], 26, { color: "#555" })));
  [[1774.7, 1806.6], [1836, 1866.9], [1902.2, 1933.1], [1960, 1993], [2036, 2066.5], [2103.8, 2135.7], [2174.9, 2206.8], [2243, 2275]].forEach((q) => g.push(Line(2953, q[0], 2953, q[1], 3.5, "#111")));
  const pairTops = [1758.3, 1823.3, 1886.5, 1950.8, 2020, 2089.3, 2160.9, 2230];
  pathwayNames.forEach((n, k) => {
    const idx = grid.length;
    grid.push({ left: 3002, top: pairTops[k], width: 215, height: 58.9 });
    xAxis.push({
      type: "value", gridIndex: idx, min: 0, max: 4.3, show: k === 0, position: "top", splitLine: { show: false }, axisLine: { show: false }, axisTick: { show: false },
      axisLabel: { customValues: [0, 2, 4], color: "#333", fontSize: 22, fontFamily: SANS, margin: 3 },
    });
    yAxis.push({ type: "category", gridIndex: idx, inverse: true, data: sexLabels, axisLine: { show: false }, axisTick: { show: false }, axisLabel: { interval: 0, color: "#333", fontSize: 16, fontFamily: SANS, margin: 25 } });
    series.push({
      type: "bar", name: n, xAxisIndex: idx, yAxisIndex: idx, barWidth: 26.5, silent: true, z: 3,
      data: [{ value: pathwayMale[k], itemStyle: { color: "#bfa996" } }, { value: pathwayFemale[k], itemStyle: { color: "#bdd0bf" } }],
    });
  });
  g.push(Line(2996, 1758, 3206, 1758, 3, "#777"), Line(3000, 1758, 3000, 2298.5, 3, "#777"));

  grid.forEach((gr) => { gr.outerBoundsMode = "none"; });
  return { animation: false, backgroundColor: "#fff", grid, xAxis, yAxis, series, graphic: { elements: g } };
}

export default function App() {
  const ref = useRef<HTMLDivElement>(null);
  useEffect(() => {
    document.body.style.margin = "0";
    const chart = echarts.init(ref.current as HTMLDivElement, null, { renderer: "svg" });
    chart.setOption(buildOption() as any);
    return () => chart.dispose();
  }, []);
  return <div ref={ref} style={{ width: W, height: H }} />;
}
